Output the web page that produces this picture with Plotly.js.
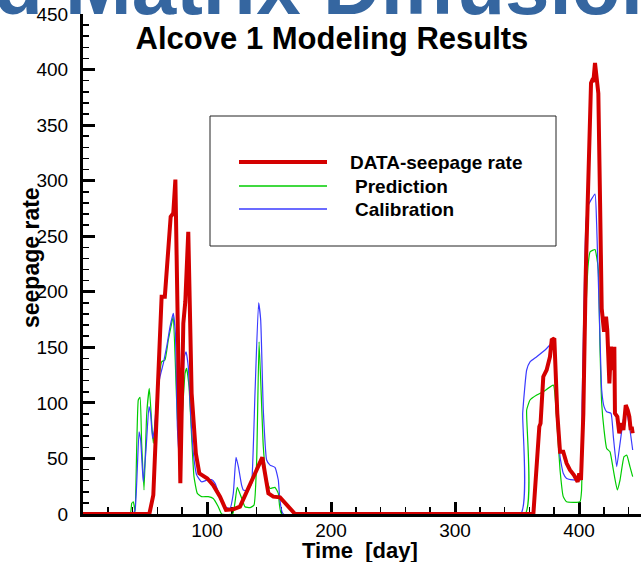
<!DOCTYPE html>
<html>
<head>
<meta charset="utf-8">
<script src="https://cdn.plot.ly/plotly-3.0.1.min.js"></script>
<style>html,body{margin:0;padding:0;background:#fff;}#chart{width:641px;height:562px;}</style>
</head>
<body>
<div id="chart"></div>
<script>
// ---- data ----
const dataDays = [0, 53.5, 56.7, 63.4, 66, 70.7, 72.8, 74.5, 78.5, 80.9, 82.5, 84.9, 87.6, 91, 93.8, 100.3, 105, 110.5, 115.3, 121.2, 126.6, 144.6, 149.5, 153.5, 158.9, 165.6, 171, 363.2, 368, 369, 371.2, 373.9, 376.6, 378, 380.1, 382.5, 384.7, 387.3, 390, 392.7, 395.9, 398.9, 400.2, 401.6, 403.5, 405.5, 408, 409.7, 410.5, 411.6, 412.9, 414.2, 415.6, 417, 418.3, 420.2, 421.8, 422.8, 424.5, 425.8, 427.2, 428.5, 429, 430.9, 432.5, 434.4, 435.8, 437.7, 439.3, 440.6, 441.7, 442.5, 443.3];
const dataRate = [0, 0, 17, 195.6, 195.6, 267.6, 270.6, 301, 27.6, 171.6, 191, 254, 108.6, 54.6, 36.6, 32, 26, 15.6, 3.6, 4.2, 6.6, 51, 18.6, 15.6, 15, 6.6, 0, 0, 78.6, 81.6, 123.6, 129.6, 141.6, 156.6, 158.1, 90.6, 56, 56, 45.6, 39.6, 35, 29, 36.6, 30.6, 90, 219, 328, 388, 390, 389, 406, 387.6, 378.6, 280, 185, 164, 177.6, 165.6, 117.6, 150.6, 129.6, 150.6, 90.6, 87.6, 72.6, 81.6, 75.6, 98, 93.6, 87.6, 75.6, 78.6, 72.6];

const predDays = [0, 38, 39.3, 40.6, 42, 44.6, 46, 47.3, 49.2, 51.4, 53.5, 55.4, 56.7, 58.9, 61.5, 63.4, 66.1, 68.8, 71.5, 72.8, 75.5, 77.7, 79.5, 82.3, 83.6, 85.5, 87.6, 89.5, 92.2, 95.7, 101, 105, 109.1, 111.8, 120.7, 124.4, 128, 130.6, 134.7, 137.9, 140, 142, 145.4, 148.1, 150.8, 154.8, 157.5, 160.2, 356.5, 357.8, 360.5, 365.9, 371.2, 379.3, 382, 384.7, 387.3, 390, 400.8, 402.1, 405.5, 407.5, 408.9, 412.9, 414.2, 415.6, 416.9, 418.3, 420.2, 422.3, 425, 427.7, 430.9, 433.1, 436.3, 438.5, 441.1, 443.3];
const predRate = [0, 0, 9.6, 11, 2, 102.6, 105, 63.6, 21.6, 90.6, 113, 81.6, 63.6, 90.6, 123.6, 137, 138.6, 156.6, 171.6, 177.6, 102.6, 54.6, 78.6, 126.6, 131, 114.6, 69.6, 33.6, 18.6, 15.6, 15.6, 14, 6.6, 0, 0, 24, 14, 6.6, 5.7, 8, 45.6, 155, 60.6, 30.6, 23, 24, 18.6, 0, 0, 93.6, 102.6, 107, 110, 116, 84.6, 39.6, 15.6, 11, 11, 21.6, 180, 225.6, 236, 238, 231.6, 219.6, 150.6, 99.6, 75.6, 59, 56, 39.6, 21.6, 30.6, 51.6, 53, 42.6, 33.6];

const calDays = [0, 40, 42, 45.2, 46.5, 48.6, 50.8, 53.2, 54.5, 56.1, 57.5, 59.4, 62.1, 64.8, 67.5, 70.2, 72.8, 74.5, 76.1, 77.7, 79.6, 81.7, 83.1, 84.9, 86.8, 89, 91.7, 95.6, 100.2, 103.7, 106.5, 110.5, 114.5, 118.5, 121.2, 123.4, 125.3, 127.9, 129.3, 132, 134.7, 136, 138.7, 141.6, 143.3, 145.4, 148.1, 150.8, 154.8, 157.5, 161.5, 352.9, 354.6, 357.8, 360.5, 365.9, 373.9, 379.3, 382, 384.7, 387.3, 390, 400.8, 402.5, 405.6, 407.5, 412.9, 414.2, 416.9, 418.3, 420.2, 422.3, 425.8, 427.7, 430.4, 433.1, 436.3, 438.5, 441.1, 443.3];
const calRate = [0, 0, 3.6, 74, 66.6, 29, 57.6, 96.6, 90.6, 68, 75.6, 102.6, 123.6, 135.6, 150.6, 168.6, 180.6, 162.6, 78.6, 51.6, 93.6, 141.6, 146, 132.6, 90.6, 54.6, 35, 29, 30.6, 31, 27.6, 15.6, 6.6, 5, 18.6, 51, 42.6, 26, 21.6, 21, 24.6, 27.6, 108.6, 190, 174.6, 93.6, 48.6, 44, 42, 30.6, 0, 0, 90.6, 129.6, 137, 141.6, 149, 155, 102.6, 51.6, 36.6, 32, 30.6, 100, 261.6, 278, 288, 261.6, 159.6, 111.6, 96.6, 92, 90.6, 69.6, 42.6, 63.6, 87.6, 90.6, 75.6, 57.6];

const seriesNames = ["DATA-seepage rate", "Prediction", "Calibration"];
const xTickVals = [100, 200, 300, 400];
const titleText = "Alcove 1 Modeling Results";
const bannerText = "d Matrix Diffusion";
const xTitle = "Time  [day]";
const yTitle = "seepage rate";

// ---- styles ----
const FONT = "Liberation Sans, Arial, Helvetica, sans-serif";
const RED = "#d40000", GREEN = "#00cc00", BLUE = "#3a3aff";

const traces = [
  {x: predDays, y: predRate, name: seriesNames[1], type: "scatter", mode: "lines",
   line: {color: GREEN, width: 1.2, shape: "spline", smoothing: 0.4}},
  {x: calDays, y: calRate, name: seriesNames[2], type: "scatter", mode: "lines",
   line: {color: BLUE, width: 1.2, shape: "spline", smoothing: 0.4}},
  {x: dataDays, y: dataRate, name: seriesNames[0], type: "scatter", mode: "lines",
   line: {color: RED, width: 4}}
];

// paper coordinate helpers for decoration (legend box, banner)
const px2x = p => (p - 83) / 558;
const py2y = p => (514 - p) / 500;

const legendRows = [
  {name: seriesNames[0], color: RED, width: 4, y: 162, tx: 348},
  {name: seriesNames[1], color: GREEN, width: 1.5, y: 186, tx: 353},
  {name: seriesNames[2], color: BLUE, width: 1.5, y: 209, tx: 353}
];

const shapes = [
  {type: "rect", xref: "paper", yref: "paper", x0: px2x(210), x1: px2x(556), y0: py2y(246), y1: py2y(116),
   line: {color: "#222", width: 1}, fillcolor: "rgba(0,0,0,0)"}
];
const annotations = [
  {text: "<b>" + bannerText + "</b>", xref: "paper", yref: "paper", x: px2x(-8), y: py2y(33),
   xanchor: "left", yanchor: "bottom", showarrow: false,
   font: {family: FONT, size: 80, color: "#3566a0"}},
  {text: "<b>" + yTitle + "</b>", xref: "paper", yref: "paper", x: px2x(31), y: py2y(258),
   xanchor: "center", yanchor: "middle", textangle: -90, showarrow: false,
   font: {family: FONT, size: 23, color: "#000"}},
  {text: "<b>" + xTitle + "</b>", xref: "paper", yref: "paper", x: px2x(360), y: py2y(550),
   xanchor: "center", yanchor: "middle", showarrow: false,
   font: {family: FONT, size: 22, color: "#000"}}
];
legendRows.forEach(r => {
  shapes.push({type: "line", xref: "paper", yref: "paper", x0: px2x(239), x1: px2x(327),
    y0: py2y(r.y), y1: py2y(r.y), line: {color: r.color, width: r.width}});
  annotations.push({text: "<b>" + r.name + "</b>", xref: "paper", yref: "paper",
    x: px2x(r.tx), y: py2y(r.y), xanchor: "left", yanchor: "middle", showarrow: false,
    font: {family: FONT, size: 19, color: "#000"}});
});

const layout = {
  width: 641, height: 562,
  margin: {l: 83, r: 0, t: 14, b: 48, pad: 0},
  paper_bgcolor: "#fff", plot_bgcolor: "#fff",
  showlegend: false,
  font: {family: FONT, color: "#000"},
  title: {text: "<b>" + titleText + "</b>", font: {family: FONT, size: 31, color: "#000"},
          x: 332 / 641, xanchor: "center", y: 1 - 38 / 562, yanchor: "middle", xref: "container", yref: "container"},
  xaxis: {
    range: [0, 450], tickvals: xTickVals, ticktext: xTickVals.map(String),
    showgrid: false, zeroline: false, showline: true, linecolor: "#000", linewidth: 3,
    ticks: "inside", ticklen: 12, tickwidth: 3, tickcolor: "#000",
    minor: {dtick: 20, tick0: 0, ticks: "inside", ticklen: 7, tickwidth: 1.5, tickcolor: "#000", showgrid: false},
    tickfont: {family: FONT, size: 19, color: "#000"},
    ticklabelstandoff: -3,
    layer: "below traces"
  },
  yaxis: {
    range: [0, 450], dtick: 50, tick0: 0,
    showgrid: false, zeroline: false, showline: true, linecolor: "#000", linewidth: 3,
    ticks: "inside", ticklen: 12, tickwidth: 3, tickcolor: "#000",
    minor: {dtick: 10, tick0: 0, ticks: "inside", ticklen: 6, tickwidth: 1.5, tickcolor: "#000", showgrid: false},
    tickfont: {family: FONT, size: 19, color: "#000"},
    ticklabelstandoff: 8,
    layer: "below traces"
  },
  shapes: shapes,
  annotations: annotations
};

Plotly.newPlot("chart", traces, layout, {displayModeBar: false, staticPlot: true});
</script>
</body>
</html>
